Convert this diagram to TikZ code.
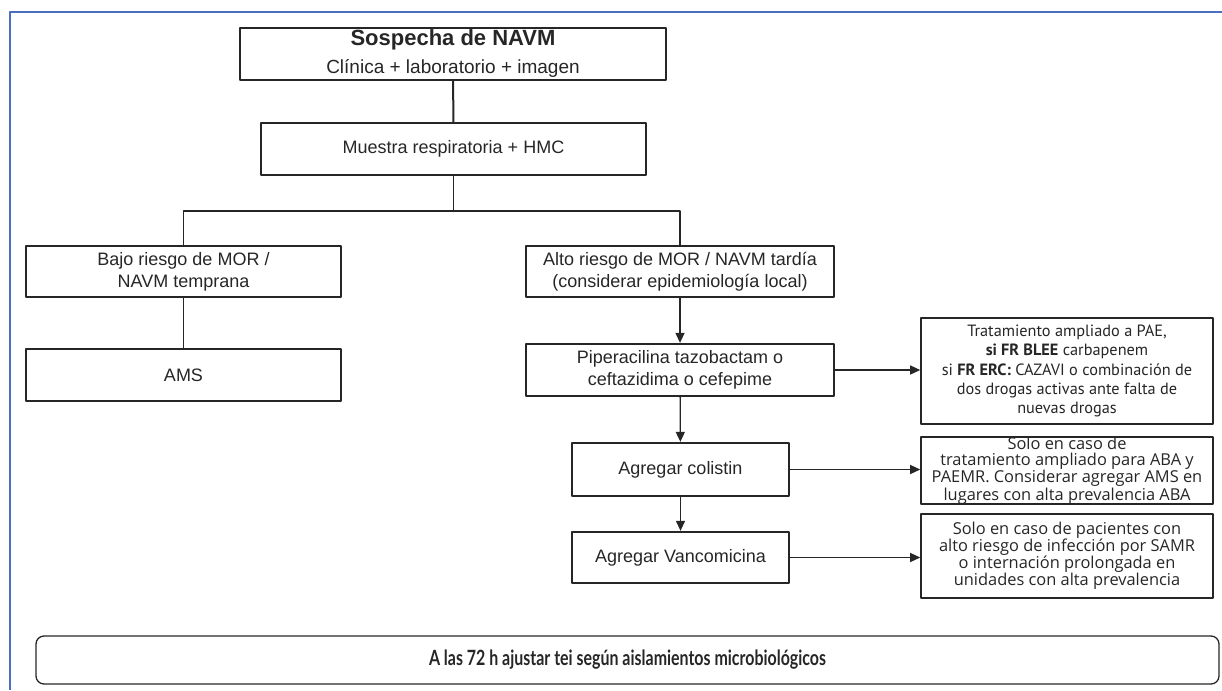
\documentclass[tikz,border=0pt]{standalone}
\usepackage{fontspec}
\setmainfont{Liberation Sans}
\newfontfamily\ptsans{PT Sans}
\newfontfamily\opensans{Open Sans}
\newfontfamily\lato[FakeStretch=0.76]{Lato}
\usetikzlibrary{arrows.meta}
\definecolor{boxgray}{HTML}{262626}
\definecolor{frameblue}{HTML}{4A6FC0}
\begin{document}
\begin{tikzpicture}[x=1pt, y=-1pt, line join=round, text=boxgray,
	mainbox/.style={draw=boxgray, line width=2.3pt, align=center, inner sep=0pt, font=\fontsize{18}{22}\selectfont},
	notebox/.style={draw=boxgray, line width=1.6pt, align=center, inner sep=0pt, minimum width=292pt},
	link/.style={draw=boxgray, line width=1.3pt},
	>={Triangle[length=10pt, width=9pt]}]
	\useasboundingbox (0,0) rectangle (1222,690);
	\draw[frameblue, line width=1.5pt] (1222,12) -- (10,12) -- (10,690);
	% --- left column and top
	\node[mainbox, minimum width=426pt, minimum height=52pt] (sosp) at (453,54)
		{{\fontsize{22}{26}\selectfont\bfseries Sospecha de NAVM}\\[6pt]{\fontsize{19}{22}\selectfont Clínica + laboratorio + imagen}};
	\node[mainbox, minimum width=385pt, minimum height=52pt] (muestra) at (453.5,149) {Muestra respiratoria + HMC};
	\node[mainbox, minimum width=315pt, minimum height=51pt] (bajo) at (183.5,271.5) {Bajo riesgo de MOR /\\NAVM temprana};
	\node[mainbox, minimum width=315pt, minimum height=52pt] (ams) at (183.5,375) {AMS};
	% --- right column
	\node[mainbox, minimum width=308pt, minimum height=51pt] (alto) at (680,271.5) {Alto riesgo de MOR / NAVM tardía\\(considerar epidemiología local)};
	\node[mainbox, minimum width=308pt, minimum height=52pt] (pip) at (680,370) {Piperacilina tazobactam o\\ceftazidima o cefepime};
	\node[mainbox, minimum width=217pt, minimum height=53pt] (colis) at (680.5,469.5) {Agregar colistin};
	\node[mainbox, minimum width=217pt, minimum height=51pt] (vanco) at (680.5,557.5) {Agregar Vancomicina};
	% --- notes
	\node[notebox, minimum height=106pt, font=\ptsans\fontsize{16.3}{19.3}\selectfont] (trat) at (1067,371)
		{Tratamiento ampliado a PAE,\\\textbf{si FR BLEE} carbapenem\\si \textbf{FR ERC:} CAZAVI o combinación de\\dos drogas activas ante falta de\\nuevas drogas};
	\node[notebox, minimum height=67pt, font=\opensans\fontsize{16.4}{15.8}\selectfont] (solo1) at (1067,470.5)
		{Solo en caso de\\tratamiento ampliado para ABA y\\PAEMR. Considerar agregar AMS en\\lugares con alta prevalencia ABA};
	\node[notebox, minimum height=84pt, font=\opensans\fontsize{16.4}{17}\selectfont] (solo2) at (1067,556)
		{Solo en caso de pacientes con\\alto riesgo de infección por SAMR\\o internación prolongada en\\unidades con alta prevalencia};
	\node[draw=boxgray, line width=1.3pt, rounded corners=8pt, minimum width=1183pt, minimum height=48pt,
		font=\lato\bfseries\fontsize{21}{24}\selectfont] (ajuste) at (627.5,660)
		{A las 72 h ajustar tei según aislamientos microbiológicos};
	% --- connectors
	\coordinate (split) at (453.5,211);
	\draw[link, line width=2pt] (sosp) -- (muestra);
	\draw[link] (muestra) -- (split);
	\draw[link] (bajo.north) |- (split) -| (alto.north);
	\draw[link] (bajo) -- (ams);
	\draw[link, ->] (alto) -- (pip);
	\draw[link, ->] (pip) -- (colis);
	\draw[link, ->] (colis) -- (vanco);
	\draw[link, ->] (pip.east) -- (pip.east -| trat.west);
	\draw[link, ->] (colis.east) -- (colis.east -| solo1.west);
	\draw[link, ->] (vanco.east) -- (vanco.east -| solo2.west);
\end{tikzpicture}
\end{document}
